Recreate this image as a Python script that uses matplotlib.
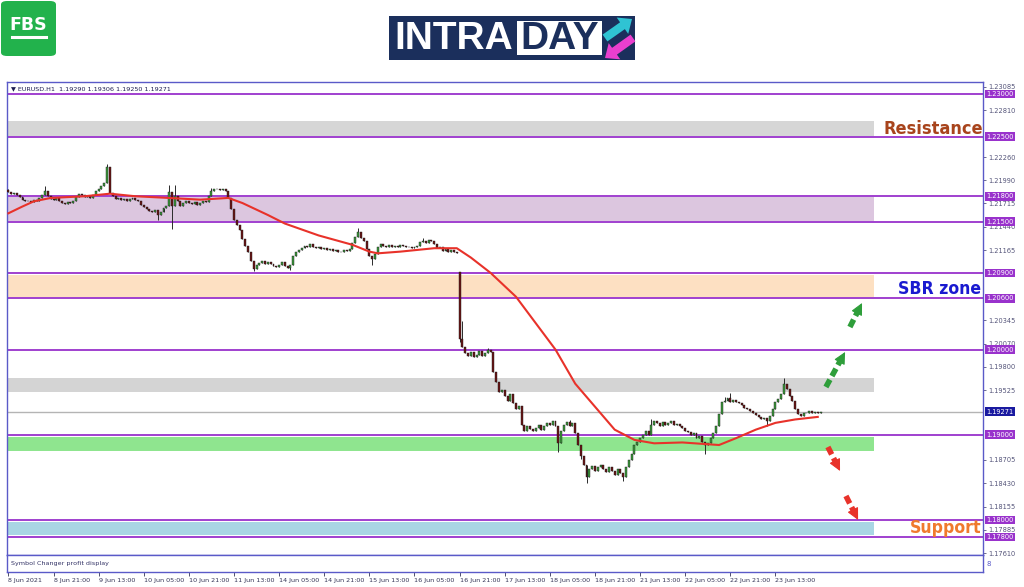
import numpy as np
import matplotlib.pyplot as plt
import matplotlib.transforms as mtransforms
from matplotlib import font_manager
from matplotlib.patches import Rectangle, FancyBboxPatch, FancyArrowPatch

# ---- data (prices in pips from 1.2000) ----
base = 1.2
closes = [
    185, 183, 184, 181, 179, 176, 174, 175, 173, 176,
    175, 178, 181, 186, 180, 177, 176, 178, 175, 172,
    171, 173, 172, 174, 179, 183, 181, 179, 180, 178,
    182, 186, 189, 192, 195, 214, 184, 180, 177, 178,
    176, 177, 175, 177, 178, 176, 174, 170, 167, 165,
    163, 162, 164, 158, 162, 166, 168, 185, 168, 180,
    175, 168, 172, 174, 172, 171, 173, 170, 172, 174,
    173, 180, 186, 188, 189, 187, 189, 186, 178, 165,
    152, 146, 140, 130, 122, 115, 104, 95, 99, 102,
    104, 100, 103, 101, 98, 97, 99, 103, 98, 96,
    99, 110, 114, 117, 119, 122, 120, 124, 121, 119,
    120, 118, 119, 117, 118, 116, 117, 115, 114, 117,
    116, 118, 125, 132, 138, 131, 128, 118, 110, 106,
    112, 120, 124, 122, 121, 123, 120, 122, 121, 123,
    122, 120, 121, 119, 121, 122, 126, 128, 125, 129,
    127, 124, 119, 120, 116, 118, 114, 117, 115, 113,
    13, 3, -4, -8, -3, -9, -6, -2, -7, -4,
    0, -3, -26, -38, -50, -47, -55, -60, -52, -63,
    -70, -66, -88, -95, -90, -93, -96, -92, -89, -94,
    -90, -86, -88, -84, -90, -110, -96, -88, -85, -90,
    -86, -98, -112, -125, -135, -150, -140, -137, -142, -138,
    -135, -140, -144, -138, -142, -147, -140, -145, -150, -138,
    -130, -122, -112, -108, -104, -100, -96, -100, -88, -84,
    -86, -90, -85, -88, -86, -84, -89, -87, -90, -92,
    -95, -97, -100, -98, -104, -102, -108, -112, -110, -104,
    -98, -90, -76, -62, -60, -57, -62, -59, -61, -63,
    -65, -68, -70, -72, -75, -77, -79, -82, -80, -84,
    -78, -70, -62, -58, -52, -40, -46, -54, -60, -70,
    -76, -78, -75, -74, -72, -75, -73, -74, -73,
]
gap_open = {0: 187, 160: 91}
highs = {0: 189, 13: 192, 35: 218, 57: 193, 59: 193, 72: 190, 124: 143,
         147: 131, 161: 33, 170: 2, 199: -83, 228: -82, 254: -56, 256: -51,
         275: -33}
lows = {53: 152, 58: 141, 87: 92, 100: 93, 129: 99, 160: 9, 195: -120,
        203: -128, 205: -157, 218: -154, 247: -122, 269: -90}

ma_bars = [0, 5, 9, 15, 27, 36, 45, 57, 68, 78, 83, 92, 98, 110, 122, 128,
           131, 139, 151, 159, 164, 171, 180, 187, 194, 201, 208, 215, 222,
           229, 239, 252, 258, 265, 272, 279, 287]
ma_pips = [160, 168, 174, 178, 180, 183, 180, 178, 176, 178, 172, 158, 148,
           134, 123, 115, 113, 115, 119, 119, 108, 90, 62, 31, 0, -40, -67,
           -94, -106, -110, -109, -112, -104, -94, -86, -82, -79]

levels = [1.23, 1.225, 1.218, 1.215, 1.209, 1.206, 1.200, 1.190, 1.180, 1.178]
last_price = 1.19271
zone_lo = [1.2251, 1.2151, 1.2062, 1.1950, 1.1881, 1.1782]
zone_hi = [1.2268, 1.2179, 1.2088, 1.1967, 1.1897, 1.1798]
zone_end = 307

ytick_vals = [1.23085, 1.22810, 1.22260, 1.21990, 1.21715, 1.21440, 1.21165,
              1.20345, 1.20070, 1.19800, 1.19525, 1.18705, 1.18430,
              1.18155, 1.17885, 1.17610]
xtick_labels = ['8 Jun 2021', '8 Jun 21:00', '9 Jun 13:00', '10 Jun 05:00',
                '10 Jun 21:00', '11 Jun 13:00', '14 Jun 05:00', '14 Jun 21:00',
                '15 Jun 13:00', '16 Jun 05:00', '16 Jun 21:00', '17 Jun 13:00',
                '18 Jun 05:00', '18 Jun 21:00', '21 Jun 13:00', '22 Jun 05:00',
                '22 Jun 21:00', '23 Jun 13:00']
xtick_step = 16

# arrows: (start bar, start price), (tip bar, tip price)
up_arrows = [((289.9, 1.19561), (296.7, 1.19972)), ((298.4, 1.20265), (302.7, 1.20547))]
down_arrows = [((290.6, 1.18857), (294.9, 1.18575)), ((297.0, 1.18282), (301.3, 1.18000))]

# ---- figure ----
W, H = 1024, 587
fig = plt.figure(figsize=(W / 100, H / 100), dpi=100)
fig.patch.set_facecolor('white')

def fx(px):
    return px / W

def fy(py):
    return 1 - py / H

frame_c = '#5a5ac8'
purple = '#9932cc'

ax = fig.add_axes([fx(7), fy(555), fx(976), 473 / H])
ax2 = fig.add_axes([fx(7), fy(572), fx(976), 17 / H])

ax.set_xlim(-0.5, 345.6)
ax.set_ylim(1.17589, 1.23141)
ax2.set_xlim(-0.5, 345.6)
ax2.set_ylim(0, 1)

for a in (ax, ax2):
    for s in a.spines.values():
        s.set_color(frame_c)
        s.set_linewidth(1.0)

# zones
zone_colors = ['#d6d6d6', '#dcc6df', '#fde0c2', '#d4d4d4', '#8fe58f', '#a9d6e4']
for lo, hi, c in zip(zone_lo, zone_hi, zone_colors):
    ax.add_patch(Rectangle((-0.5, lo), zone_end + 0.5, hi - lo, facecolor=c,
                           edgecolor='none', zorder=1))

# level lines
for lv in levels:
    ax.axhline(lv, color=purple, lw=1.3, zorder=2)
ax.axhline(last_price, color='#b4b4b4', lw=1.0, zorder=2)

# candles
n = len(closes)
x = np.arange(n)
o = np.array([gap_open.get(i, closes[i - 1] if i > 0 else closes[0]) for i in range(n)], float)
c = np.array(closes, float)
hi = np.array([highs.get(i, max(o[i], c[i])) for i in range(n)], float)
lo = np.array([lows.get(i, min(o[i], c[i])) for i in range(n)], float)
o, c, hi, lo = base + o / 1e4, base + c / 1e4, base + hi / 1e4, base + lo / 1e4
up = c >= o
ax.vlines(x, lo, hi, color='#2a2a2a', lw=0.7, zorder=3)
body_h = np.where(np.abs(c - o) < 0.00004, 0.00004, c - o)
ax.bar(x[up], body_h[up], bottom=o[up], width=0.7, color='#3c9a3c',
       edgecolor='#1a1a1a', linewidth=0.3, zorder=4)
ax.bar(x[~up], body_h[~up], bottom=o[~up], width=0.7, color='#6a1414',
       edgecolor='#1a1a1a', linewidth=0.3, zorder=4)

# moving average
ax.plot(ma_bars, base + np.array(ma_pips) / 1e4, color='#e8322a', lw=1.5, zorder=5)

# dashed arrows: dashed shaft + solid head
def dashed_arrow(p0, p1, color):
    xm = p0[0] + 0.72 * (p1[0] - p0[0])
    ym = p0[1] + 0.72 * (p1[1] - p0[1])
    ax.plot([p0[0], xm], [p0[1], ym], color=color, lw=4, ls=(0, (1.5, 0.75)),
            solid_capstyle='butt', dash_capstyle='butt', zorder=6)
    ax.annotate('', xy=p1, xytext=(xm, ym),
                arrowprops=dict(arrowstyle='-|>,head_length=0.9,head_width=0.45',
                                mutation_scale=8, lw=0.8, color=color,
                                shrinkA=0, shrinkB=0), zorder=6)

for p0, p1 in up_arrows:
    dashed_arrow(p0, p1, '#2e9e3a')
for p0, p1 in down_arrows:
    dashed_arrow(p0, p1, '#e8322a')

# zone captions
font_names = {f.name for f in font_manager.fontManager.ttflist}
has_cond = any(f.name == 'DejaVu Sans' and f.stretch == 'condensed'
               for f in font_manager.fontManager.ttflist)
if 'Liberation Sans Narrow' in font_names:
    cap_kw = dict(family=['Liberation Sans Narrow', 'DejaVu Sans'])
    cap_size = 14.5
elif has_cond:
    cap_kw = dict(family=['DejaVu Sans'], fontstretch='condensed')
    cap_size = 13
else:
    cap_kw = dict(family=['Roboto', 'DejaVu Sans'])
    cap_size = 10.8

trans_r = mtransforms.blended_transform_factory(ax.transAxes, ax.transData)
ax.text(0.9995, 1.2259, 'Resistance', transform=trans_r, ha='right', va='center',
        fontsize=cap_size, fontweight='bold', color='#a8441c', zorder=7, **cap_kw)
ax.text(0.9975, 1.2071, 'SBR zone', transform=trans_r, ha='right', va='center',
        fontsize=cap_size * 0.97, fontweight='bold', color='#1a1ad0', zorder=7, **cap_kw)
ax.text(0.9985, 1.1791, 'Support', transform=trans_r, ha='right', va='center',
        fontsize=cap_size * 0.97, fontweight='bold', color='#f07a2e', zorder=7, **cap_kw)

# header
ax.text(0.004, 0.986, '\u25bc EURUSD.H1  1.19290 1.19306 1.19250 1.19271', transform=ax.transAxes,
        fontsize=4.6, color='#1c1c50', va='center', ha='left')

# right price axis
ax.yaxis.tick_right()
ax.set_yticks(ytick_vals)
ax.set_yticklabels(['%.5f' % v for v in ytick_vals])
ax.tick_params(axis='y', labelsize=4.8, colors='#55557a', length=2.5, width=0.6, pad=1.5)
ax.set_xticks([])
for lv in levels:
    ax.text(1.0035, lv, '%.5f' % lv, transform=trans_r, fontsize=4.8, color='white',
            va='center', ha='left', zorder=8, clip_on=False,
            bbox=dict(boxstyle='square,pad=0.2', fc=purple, ec='none'))
ax.text(1.0035, last_price, '%.5f' % last_price, transform=trans_r, fontsize=4.8, color='white',
        va='center', ha='left', zorder=8, clip_on=False,
        bbox=dict(boxstyle='square,pad=0.2', fc='#1a1aa0', ec='none'))

# sub window
ax2.set_yticks([])
ax2.text(0.004, 0.5, 'Symbol Changer profit display', transform=ax2.transAxes,
         fontsize=4.6, color='#333366', va='center', ha='left')
ax2.text(1.004, 0.5, '8', transform=ax2.transAxes, fontsize=5, color='#5a5ac8', va='center', ha='left')
ax2.set_xticks(np.arange(len(xtick_labels)) * xtick_step)
ax2.set_xticklabels(xtick_labels, ha='left')
ax2.tick_params(axis='x', labelsize=4.6, colors='#333355', length=3, width=0.6, pad=1.5)

# FBS logo
fig.patches.append(FancyBboxPatch((fx(1), fy(56)), fx(55), 55 / H, boxstyle='round,pad=0,rounding_size=0.006',
                                  transform=fig.transFigure, fc='#22b24c', ec='none', zorder=1))
fig.text(fx(28.5), fy(25), 'FBS', fontsize=12.5, fontweight='bold', color='white', ha='center', va='center')
fig.add_artist(plt.Line2D([fx(12), fx(46)], [fy(37), fy(37)], color='white', lw=2.2,
                          transform=fig.transFigure, zorder=3))

# INTRADAY logo
navy = '#1b2f5c'
fig.patches.append(Rectangle((fx(389), fy(60)), fx(246), 44 / H, transform=fig.transFigure,
                             fc=navy, ec='none', zorder=1))
fig.patches.append(Rectangle((fx(517), fy(55)), fx(85), 34 / H, transform=fig.transFigure,
                             fc='white', ec='none', zorder=2))
logo_font = ['Liberation Sans', 'DejaVu Sans']
fig.text(fx(394), fy(39), 'INTRA', fontsize=28, fontweight='bold', color='white', ha='left', va='center',
         family=logo_font)
fig.text(fx(559.5), fy(39), 'DAY', fontsize=28, fontweight='bold', color=navy, ha='center', va='center',
         family=logo_font)
fig.add_artist(FancyArrowPatch((fx(605), fy(38)), (fx(632), fy(19)), transform=fig.transFigure,
                               arrowstyle='simple,head_length=0.7,head_width=1.2,tail_width=0.5',
                               mutation_scale=12, lw=0, color='#2fc3d3', shrinkA=0, shrinkB=0, zorder=4))
fig.add_artist(FancyArrowPatch((fx(633), fy(38)), (fx(605), fy(58)), transform=fig.transFigure,
                               arrowstyle='simple,head_length=0.7,head_width=1.2,tail_width=0.5',
                               mutation_scale=12, lw=0, color='#ea3fce', shrinkA=0, shrinkB=0, zorder=5))

fig.savefig('out.png', dpi=100)
